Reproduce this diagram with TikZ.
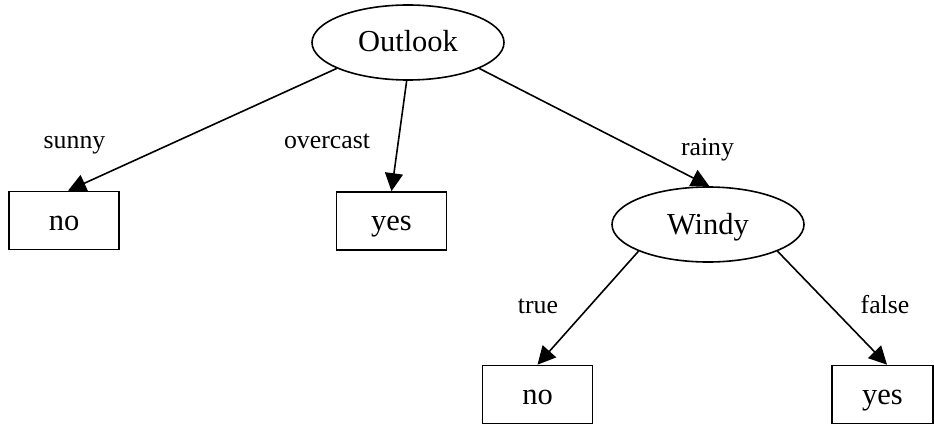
\documentclass[tikz,border=0pt]{standalone}
\usepackage{fontspec}
\setmainfont{Liberation Serif}
\usetikzlibrary{arrows.meta,shapes.geometric}
\begin{document}
\begin{tikzpicture}[x=1pt,y=-1pt,
  nodefont/.style={font=\fontsize{30.5}{36}\selectfont, text height=22pt, text depth=3pt},
  decision/.style={ellipse, draw, line width=1.6pt, minimum width=192pt, minimum height=75pt, inner sep=0pt, nodefont},
  leaf/.style={rectangle, draw, line width=1.6pt, minimum width=110pt, minimum height=58pt, inner sep=0pt, nodefont},
  edgelabel/.style={font=\fontsize{25.8}{30}\selectfont, anchor=base, inner sep=0pt},
  edge/.style={line width=1.6pt, -{Triangle[length=18pt,width=18pt]}}]
\useasboundingbox (0,0) rectangle (934,425);
\node[decision] (outlook) at (408,42.5) {Outlook};
\node[leaf] (no1) at (64,220.5) {no};
\node[leaf] (yes1) at (391.5,221) {yes};
\node[decision] (windy) at (708,224.5) {Windy};
\node[leaf] (no2) at (537.5,394.5) {no};
\node[leaf, minimum width=101pt] (yes2) at (882.5,394.5) {yes};
\draw[edge] (outlook.200) -- ([xshift=4pt]no1.north);
\draw[edge] (outlook.268) -- (yes1.north);
\draw[edge] (outlook.340) -- (windy.88);
\draw[edge] (windy.201) -- (no2.north);
\draw[edge] (windy.339) -- ([xshift=4.5pt]yes2.north);
\node[edgelabel] (lsunny) at (74.5,149) {sunny};
\node[edgelabel] (lovercast) at (327,149) {overcast};
\node[edgelabel] (lrainy) at (707.5,155) {rainy};
\node[edgelabel] (ltrue) at (538,313) {true};
\node[edgelabel] (lfalse) at (885,313) {false};
\end{tikzpicture}
\end{document}
